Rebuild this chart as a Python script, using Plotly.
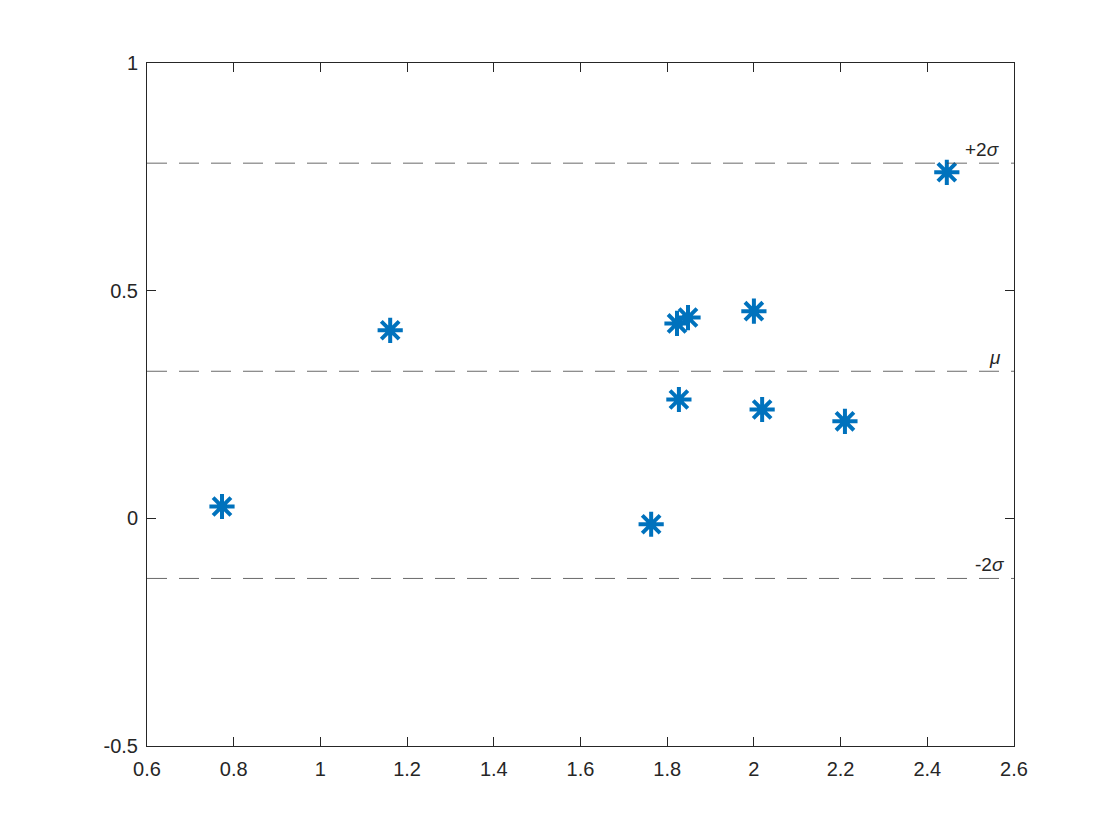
import plotly.graph_objects as go

x_vals = [0.773, 1.161, 1.763, 1.8226, 1.848, 1.827, 2.000, 2.019, 2.210, 2.445]
y_vals = [0.026, 0.413, -0.013, 0.428, 0.441, 0.261, 0.455, 0.239, 0.213, 0.760]
line_levels = [0.780, 0.323, -0.132]
line_labels = ["+2<i>σ</i>", "<i>μ</i>", "-2<i>σ</i>"]
label_x = [2.572, 2.575, 2.584]
x_ticks = [0.6, 0.8, 1, 1.2, 1.4, 1.6, 1.8, 2, 2.2, 2.4, 2.6]
x_ticktext = ["0.6", "0.8", "1", "1.2", "1.4", "1.6", "1.8", "2", "2.2", "2.4", "2.6"]
y_ticks = [-0.5, 0, 0.5, 1]
y_ticktext = ["-0.5", "0", "0.5", "1"]

fig = go.Figure()
fig.add_trace(go.Scatter(
    x=x_vals, y=y_vals, mode="markers",
    marker=dict(symbol="asterisk-open", size=21, color="#0072BD",
                line=dict(color="#0072BD", width=4)),
    showlegend=False,
))

for lvl, lab, lx in zip(line_levels, line_labels, label_x):
    fig.add_shape(type="line", xref="x", yref="y", x0=0.6, x1=2.6, y0=lvl, y1=lvl,
                  line=dict(color="#444444", width=0.8, dash="20px,12px"))
    fig.add_annotation(x=lx, y=lvl, xref="x", yref="y", text=lab, showarrow=False,
                       xanchor="right", yanchor="bottom", yshift=1,
                       font=dict(family="Liberation Sans, Arial", size=19, color="#262626"))

axis_common = dict(showgrid=False, zeroline=False, showline=True, linecolor="#262626",
                   linewidth=1, mirror="ticks", ticks="inside", ticklen=9,
                   tickcolor="#262626", tickfont=dict(family="Liberation Sans, Arial", size=20, color="#262626"))

fig.update_xaxes(range=[0.6, 2.6], tickvals=x_ticks, ticktext=x_ticktext,
                 ticklabelstandoff=5, **axis_common)
fig.update_yaxes(range=[-0.5, 1], tickvals=y_ticks, ticktext=y_ticktext,
                 ticklabelstandoff=4, **axis_common)

fig.update_layout(
    width=1104, height=824,
    margin=dict(l=139, r=98, t=55, b=86),
    plot_bgcolor="white", paper_bgcolor="white",
)

fig.write_html("out.html")
